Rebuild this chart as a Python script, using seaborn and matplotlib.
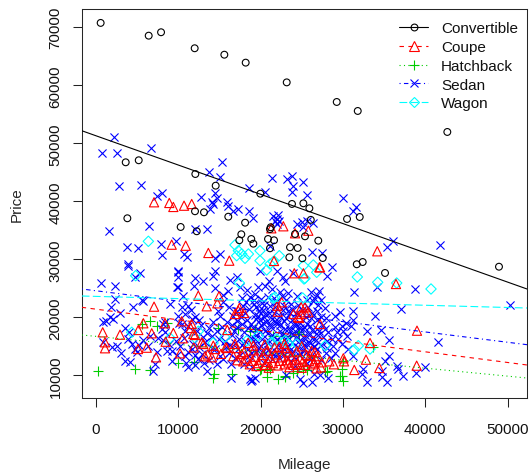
#!/usr/bin/env python
# coding: utf-8
from matplotlib.lines import Line2D
import matplotlib.pyplot as plt
import pandas as pd
import seaborn as sns

BODY_TYPES = ["Convertible", "Coupe", "Hatchback", "Sedan", "Wagon"]
X_TICKS = [0, 10000, 20000, 30000, 40000, 50000]
Y_TICKS = [10000, 20000, 30000, 40000, 50000, 60000, 70000]

# fitted line of each body type
INTERCEPTS = [51310, 21407, 16717, 24578, 23605]
SLOPES = [-0.505, -0.184, -0.1373, -0.1777, -0.0383]

# (mileage, price)
convertible = [
    (600, 70750), (6430, 68550), (7930, 69140), (12010, 66380), (15610, 65270), (18200, 63900),
    (23180, 60500), (29250, 57120), (31800, 55570), (42670, 51950), (3640, 46720), (5220, 47070),
    (12090, 44700), (14560, 42690), (19980, 41310), (3840, 37070), (10310, 35570), (12050, 38280),
    (13140, 38100), (12260, 34830), (16090, 37340), (18130, 36310), (17670, 34310), (17430, 33280),
    (18880, 33500), (19130, 32690), (20910, 33500), (21640, 33280), (21150, 31900), (21240, 35520),
    (23820, 39540), (25200, 39650), (25930, 38790), (30500, 36950), (32040, 37290), (25400, 33960),
    (24190, 34360), (27010, 33210), (23580, 32070), (24510, 31950), (25080, 30170), (27550, 30220),
    (31680, 29140), (32400, 29530), (23500, 30340), (35110, 27640), (48940, 28720), (21150, 35200),
    (26100, 36800),
]
coupe = [
    (7080, 39830), (8930, 39710), (9420, 39020), (10720, 39240), (11650, 39530), (9220, 32520),
    (10920, 32340), (13670, 31090), (16210, 29760), (22770, 35690), (21310, 35340), (21640, 29710),
    (12450, 23720), (14960, 23620), (13470, 21900), (14760, 22410), (7080, 21830), (10440, 19310),
    (5780, 18970), (8410, 18970), (850, 17410), (2950, 17000), (5170, 17810), (6800, 17240),
    (9420, 17290), (10560, 16380), (11530, 18150), (12050, 16950), (1130, 15690), (1130, 14660),
    (8490, 15790), (5130, 14530), (6190, 14760), (10230, 13790), (7320, 13100), (13060, 15400),
    (13260, 13280), (14480, 14530), (15900, 14710), (16900, 15400), (16900, 20570), (17300, 21140),
    (18000, 20740), (17430, 21600), (22090, 20970), (22570, 22590), (22040, 22000), (23980, 20570),
    (25000, 20570), (24710, 19880), (25400, 21720), (25800, 20860), (24100, 27590), (25200, 27590),
    (27220, 28620), (11650, 18840), (15970, 17810), (11840, 17120), (12860, 15690), (14270, 15100),
    (15780, 14830), (19130, 15100), (22280, 14930), (24390, 14140), (23370, 13970), (17720, 13670),
    (20750, 14240), (34170, 31380), (36440, 25740), (38990, 17690), (38950, 11660), (32800, 12690),
    (33290, 15570), (31380, 10920), (34420, 11260), (30050, 12930), (30130, 12410), (27220, 18840),
    (28350, 12410), (27340, 11380), (27430, 12240), (26610, 13970), (26010, 13380), (25800, 34930),
    (24190, 34480), (27140, 28620), (24930, 21720), (25400, 20860), (24550, 20050),
    # dense block at the bottom
    (16700, 13300), (17200, 12600), (17900, 12400), (18300, 12900), (18700, 11900), (19000, 12500),
    (19400, 13200), (19700, 12100), (20100, 12700), (20300, 13500), (20600, 11800), (20900, 12300),
    (21200, 13000), (21500, 12100), (21800, 13600), (22100, 11700), (22300, 12500), (22600, 13100),
    (22900, 11900), (23200, 12600), (23400, 12200), (23700, 13300), (24000, 11800), (24300, 12700),
    (24500, 12000), (24800, 12900), (25100, 12300), (25400, 11800), (25600, 13500), (25900, 12500),
    (26200, 14200), (26400, 11900), (26700, 12800), (27000, 13300), (18000, 14000), (19200, 14300),
    (20500, 15300), (21700, 14800), (23000, 14700), (25000, 15000), (26500, 12200), (19500, 11600),
    (21000, 11300), (23500, 11400), (25000, 11300), (28900, 11900), (14100, 13100), (15200, 13700),
    (17000, 14700), (18500, 15600), (22900, 15400), (13600, 13600), (11900, 14800), (26800, 11200),
]
hatchback = [
    (320, 10740), (4770, 11090), (6590, 10860), (10030, 12120), (11970, 12240), (14390, 10220),
    (16500, 10220), (5580, 18840), (6590, 19410), (7400, 18550), (8610, 19020), (14880, 18150),
    (17310, 17980), (18730, 17590), (20750, 10970), (22160, 9360), (22970, 9650), (20020, 11090),
    (19330, 17980), (20830, 9650), (22970, 9930), (19940, 10910), (21150, 11090), (25600, 10910),
    (27830, 10520), (24590, 17410), (21550, 16830), (22770, 16830), (23580, 16830), (30050, 12520),
    (29650, 9930), (29970, 9070), (33680, 14830), (29850, 9930), (29850, 11090), (28030, 10790),
    (25200, 11090), (24710, 17120), (14200, 9600), (23900, 10400), (24400, 10700),
]
sedan = [
    (2220, 51090), (800, 48280), (2620, 48330), (6710, 49190), (15330, 46720), (13790, 45000),
    (15090, 44140), (2830, 42690), (5500, 42810), (18600, 42290), (20550, 41660), (21360, 44020),
    (23250, 43840), (7400, 40970), (8080, 41430), (12780, 40790), (14480, 41380), (14680, 40570),
    (23780, 44410), (25200, 43380), (23980, 42690), (23860, 41660), (25680, 41090), (30050, 40570),
    (31550, 38970), (31190, 38280), (14080, 39830), (13870, 38670), (16090, 39140), (16700, 38280),
    (17310, 38670), (18640, 38330), (19130, 37170), (21550, 37410), (22160, 37640), (21760, 36550),
    (22280, 36660), (22040, 36090), (24390, 36090), (25000, 36380), (25600, 36550), (26330, 36210),
    (25200, 35520), (13470, 35220), (12050, 35220), (26210, 31210), (27500, 31090), (15090, 30910),
    (14480, 30170), (21150, 32340), (28640, 28720), (35320, 32070), (36040, 33100), (41780, 32520),
    (31350, 24410), (34170, 25280), (38710, 24880), (37050, 21430), (50320, 22170), (33900, 20170),
    (29650, 20860), (31190, 21140), (31260, 19590), (34620, 17860), (32890, 17690), (35600, 16140),
    (41540, 15740), (29850, 18550), (29040, 18280), (30050, 17690), (29250, 17410), (30460, 16830),
    (29440, 16260), (29850, 15400), (31260, 13380), (32480, 11090), (32280, 10220), (32890, 8790),
    (34710, 10790), (34710, 9650), (35320, 8790), (35600, 13380), (35110, 12520), (36530, 11660),
    (36730, 11090), (37330, 9930), (38830, 10400), (39960, 11380), (25200, 8670), (26210, 8900),
    (24790, 9360), (640, 25860), (2340, 25450), (4770, 26900), (5380, 27640), (3960, 28900),
    (2340, 23160), (4560, 21830), (5660, 22990), (1860, 21720), (2950, 20690), (9020, 22290),
    (10030, 28030), (9950, 26900), (10030, 25170), (10630, 23720), (1740, 20100), (1210, 19410),
    (920, 19140), (2140, 19710), (920, 15690), (1940, 14830), (2550, 15100), (3960, 16260),
    (4370, 15400), (4970, 13970), (6390, 15100), (3560, 12520), (4160, 12240), (7200, 11950),
    (6990, 10790), (8610, 14240), (9220, 14140), (11240, 11380), (10440, 21720), (11240, 22000),
    (10840, 20570), (11650, 19710), (10030, 20280), (8410, 19140), (8130, 18840), (10840, 17690),
    (8410, 17410), (8010, 17980), (11650, 14530), (11240, 13970), (1650, 34930), (3840, 32170),
    (5100, 31950), (3880, 29190), (6430, 35690), (7920, 32640), (8010, 30740), (9750, 33100),
    (10750, 30910), (11040, 30340), (10030, 27760), (9830, 25170), (12050, 26780), (13060, 26310),
    (11930, 25340), (14480, 28030), (14200, 27170), (14480, 25000), (5700, 22860), (16300, 26430),
    (17110, 26900), (16090, 24590), (15900, 39830), (14270, 39530), (19940, 28030), (21970, 36950),
    (22770, 26900), (21970, 28030), (19730, 25170), (20550, 25450), (21360, 24880), (19330, 24030),
    (18730, 23450), (17910, 22000), (15490, 22590), (15090, 20280), (14270, 19140), (23000, 26200),
    (24000, 27600), (28050, 27200), (26100, 24400), (26900, 23800), (27400, 23000), (26400, 22800),
    (27000, 22200), (27800, 21600), (27100, 24500), (28000, 19800), (27600, 18600), (28200, 17400),
    (27000, 16900), (26300, 17800), (25700, 18900), (26800, 19600), (25100, 17900), (24300, 18600),
    (23400, 18100), (23800, 19500), (22800, 19300), (22000, 18900), (21300, 18300), (20700, 19200),
    (20100, 18600), (19500, 19700), (18900, 18800), (18300, 19600), (17700, 18900), (17100, 19400),
    (16500, 18600), (15900, 19200), (15300, 18400), (14700, 17600), (14100, 16800), (13500, 17300),
    (16200, 21700), (18600, 21400), (19200, 22300), (19800, 21000), (20400, 22100), (21000, 20700),
    (21600, 23300), (23100, 23000), (23700, 22300), (24400, 23600), (19300, 20400), (20000, 23100),
    (18400, 24700), (17500, 25200), (22400, 24400), (21000, 26200), (20400, 20000), (21800, 21700),
    (22700, 21200), (23300, 21000), (26100, 19800), (25600, 23000), (16500, 16900), (17400, 16300),
    (18000, 17500), (18800, 16500), (19500, 17000), (20200, 16200), (20900, 17300), (21700, 15800),
    (22400, 17700), (23100, 15900), (23900, 17000), (24600, 15700), (25300, 16500), (26000, 15600),
    (26700, 16000), (27400, 15200), (28100, 14700), (28800, 15000), (15700, 15900), (15000, 16200),
    (14100, 14700), (13300, 15800), (12500, 14800), (12900, 13700), (13800, 12700), (14700, 12000),
    (15500, 12800), (16400, 11900), (16900, 13000), (17500, 13500), (18000, 12000), (18600, 13300),
    (19000, 11500), (19400, 14100), (20000, 13600), (20400, 12200), (20900, 14400), (21400, 12800),
    (21900, 14100), (22300, 13000), (22800, 14600), (23300, 12900), (23800, 14000), (24200, 11600),
    (24700, 13500), (25200, 14400), (25700, 12100), (26300, 13000), (26800, 14600), (27300, 12700),
    (27900, 13800), (28500, 12900), (29100, 13800), (30600, 14500), (18700, 9400), (19000, 9200),
    (19300, 9500), (18800, 9000), (27200, 10000), (28200, 9600), (26500, 10300), (16400, 9600),
    (23100, 10000), (12100, 11700), (13500, 10800), (9300, 12500), (9800, 15900), (10700, 16500),
    (11800, 15400), (12400, 12800), (11000, 12100), (4800, 14500), (7400, 14100), (3100, 13800),
    # second pass over the dense middle
    (19150, 22900), (19400, 21700), (19650, 20300), (19900, 19500), (20150, 22500), (20350, 21300),
    (20600, 20500), (20850, 23500), (21100, 21900), (21350, 19700), (21600, 20800), (21850, 22600),
    (22100, 19400), (22350, 20300), (22600, 23600), (22850, 22000), (23050, 19900), (23300, 24200),
    (23550, 20700), (23800, 21500), (24050, 18700), (24300, 20800), (24550, 22100), (24800, 19100),
    (25050, 21200), (25300, 18300), (25550, 20100), (25800, 21800), (26050, 18500), (26300, 20700),
    (26550, 23400), (26800, 21000), (27050, 17700), (27300, 20100), (27550, 16600), (27800, 18000),
    (28050, 15900), (19050, 18200), (19350, 16200), (19650, 18000), (19950, 17400), (20250, 19000),
    (20550, 17700), (20850, 16000), (21150, 18900), (21450, 17000), (21750, 19300), (22050, 16300),
    (22350, 18600), (22650, 17000), (22950, 18000), (23250, 16600), (23550, 17600), (23850, 15800),
    (24150, 17600), (24450, 16600), (24750, 18100), (25050, 15700), (25350, 17000), (25650, 15400),
    (25950, 17200), (26250, 16500), (26550, 15100), (26850, 17900), (16800, 17600), (17200, 18300),
    (17600, 20000), (18100, 20700), (18500, 18100), (16700, 20300), (17200, 21000), (17800, 23400),
    (18200, 22600), (16900, 15500), (17300, 14500), (17700, 15200), (18100, 15900), (18500, 14600),
    (18900, 13900), (19300, 15500), (19700, 14700), (20100, 15000), (20500, 13800), (20900, 15500),
    (21300, 14000), (21700, 13300), (22100, 15200), (22500, 14200), (22900, 13500), (23300, 15000),
    (23700, 14500), (24100, 13200), (24500, 14800), (24900, 13700), (25300, 15300), (25700, 14100),
    (26100, 13400), (26500, 14800), (15100, 13400), (14500, 14500), (15800, 14800), (16200, 13900),
    (16300, 15200), (13000, 16600), (12300, 17600), (12800, 18600), (12000, 20000), (11200, 18500),
    (10500, 18800), (10100, 19000), (11600, 21300), (12500, 19500), (13800, 18200), (14900, 21000),
    (15500, 23800), (9900, 13500), (10200, 15000), (10800, 13300), (12000, 13500), (13100, 12200),
    (28700, 16200), (29000, 20300), (30400, 19000), (31000, 18500), (8200, 16000), (8900, 15400),
    (7600, 16400), (6600, 16800), (5700, 16000), (5300, 15200), (4100, 17500), (3500, 18200),
]
wagon = [
    (6390, 33100), (4850, 27170), (17430, 25920), (21760, 23450), (4370, 17410), (12450, 17590),
    (9020, 16430), (15690, 16550), (14240, 15570), (16900, 32470), (17310, 31480), (17110, 30620),
    (17720, 30910), (18530, 30910), (18120, 30170), (19940, 31480), (19940, 29760), (21150, 29190),
    (21550, 29590), (22280, 30620), (25200, 28900), (26410, 29020), (25400, 26720), (26820, 27760),
    (31750, 26950), (34220, 26030), (36530, 25910), (40690, 24880), (25120, 23330), (27830, 15100),
    (31380, 14410), (31870, 15100), (33290, 14530), (21550, 23280), (18330, 15970), (19730, 16830),
    (21360, 15690), (22970, 15970), (23370, 15400), (24390, 15400), (21970, 16260), (20750, 28160),
    (25280, 26600), (12000, 16500),
]

series_points = [convertible, coupe, hatchback, sedan, wagon]
COLORS = ["black", "#ff0000", "#00cd00", "#0000ff", "#00ffff"]
MARKERS = ["o", "^", "+", "x", "D"]
SIZES = [24, 44, 55, 34, 28]
LINESTYLES = ["-", (0, (4, 4)), (0, (1, 3)), (0, (1, 3, 4, 3)), (0, (7, 3))]
DRAW_ORDER = [2, 3, 4, 1, 0]

sns.set_style("ticks")
plt.rcParams["font.family"] = ["Liberation Sans", "DejaVu Sans"]
plt.rcParams["axes.linewidth"] = 0.75
plt.rcParams["text.color"] = "#111111"

W, H = 529, 477
fig = plt.figure(figsize=(W / 100, H / 100), dpi=100)
ax = fig.add_axes([81.7 / W, 1 - 399 / H, (527 - 81.7) / W, (399 - 9.7) / H])

for i in DRAW_ORDER:
    df = pd.DataFrame(series_points[i], columns=["Mileage", "Price"])
    if MARKERS[i] in ("+", "x"):
        sns.scatterplot(data=df, x="Mileage", y="Price", marker=MARKERS[i], color=COLORS[i],
                        s=SIZES[i], linewidth=0.8, ax=ax, legend=False, zorder=2)
    else:
        sns.scatterplot(data=df, x="Mileage", y="Price", marker=MARKERS[i], s=SIZES[i],
                        facecolors="none", edgecolors=COLORS[i], linewidth=0.8, ax=ax,
                        legend=False, zorder=2)

for i in range(len(BODY_TYPES)):
    ax.axline((0, INTERCEPTS[i]), slope=SLOPES[i], color=COLORS[i], linestyle=LINESTYLES[i],
              linewidth=0.8, zorder=3)

ax.set_xlim(-1700, 52340)
ax.set_ylim(6086, 73200)
ax.set_xticks(X_TICKS)
ax.set_yticks(Y_TICKS)
ax.tick_params(axis="both", length=6.7, width=0.75, labelsize=11, color="#222222", labelcolor="#111111")
ax.tick_params(axis="x", pad=10.5)
ax.tick_params(axis="y", pad=7)
for label in ax.get_yticklabels():
    label.set_rotation(90)
    label.set_va("center")
ax.set_xlabel("Mileage", fontsize=11)
ax.set_ylabel("Price", fontsize=11)
ax.xaxis.set_label_coords(0.5, -0.152)
ax.yaxis.set_label_coords(-0.13, 0.5)

handles = [
    Line2D([0], [0], color=COLORS[i], linestyle=LINESTYLES[i], linewidth=0.8, marker=MARKERS[i],
           markerfacecolor="none", markeredgecolor=COLORS[i], markersize=SIZES[i] ** 0.5,
           markeredgewidth=0.8)
    for i in range(len(BODY_TYPES))
]
ax.legend(handles, BODY_TYPES, loc="upper left", bbox_to_anchor=(0.699, 0.983), frameon=False,
          fontsize=11, handlelength=1.9, handletextpad=0.85, labelspacing=0.31, borderaxespad=0.0,
          labelcolor="#111111")

plt.savefig("out.png", dpi=100)
